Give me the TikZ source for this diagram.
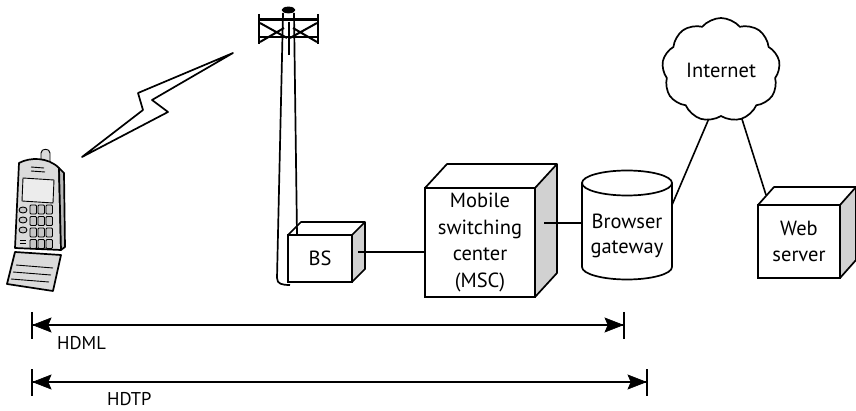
\documentclass[tikz,border=0pt]{standalone}
\usepackage{fontspec}
\setmainfont{PT Sans}
\usetikzlibrary{shapes.symbols}
\definecolor{sidegray}{gray}{0.82}
\definecolor{phonegray}{gray}{0.86}

% top and side faces of a box drawn behind/right of a front-face node
\newcommand\depthfaces[3]{%
  \fill[white] (#1.north west) -- ([shift={(#2,-#3)}]#1.north west) -- ([shift={(#2,-#3)}]#1.north east) -- (#1.north east) -- cycle;
  \fill[sidegray] (#1.north east) -- ([shift={(#2,-#3)}]#1.north east) -- ([shift={(#2,-#3)}]#1.south east) -- (#1.south east) -- cycle;
  \draw[ink] (#1.north west) -- ([shift={(#2,-#3)}]#1.north west) -- ([shift={(#2,-#3)}]#1.north east) -- ([shift={(#2,-#3)}]#1.south east) -- (#1.south east)
             (#1.north east) -- ([shift={(#2,-#3)}]#1.north east);
  \draw[ink] (#1.north west) rectangle (#1.south east);}

% double-headed span between two named points, with end bars
\newcommand\protospan[2]{%
  \draw[spanline] (#1) -- (#2);
  \path[spanhead] (#1) ++(1,0) -- ++(18,-7) -- ++(-3,7) -- ++(3,7) -- cycle;
  \path[spanhead] (#2) ++(-1,0) -- ++(-18,-7) -- ++(3,7) -- ++(-3,7) -- cycle;
  \draw[endbar] ([yshift=13pt]#1) -- ([yshift=-14pt]#1) ([yshift=13pt]#2) -- ([yshift=-14pt]#2);}

\begin{document}
\begin{tikzpicture}[x=1pt,y=-1pt,
  ink/.style={line width=1.7pt, line join=round},
  fine ink/.style={line width=0.9pt, line join=round},
  unitfont/.style={font=\fontsize{20.5}{26.5}\selectfont},
  unit/.style={draw, fill=white, line width=1.7pt, inner sep=0pt, outer sep=0pt, align=center, unitfont},
  link/.style={line width=1.6pt},
  spanline/.style={line width=1.7pt},
  spanhead/.style={fill=black, draw=black, line width=0.6pt, line join=miter},
  endbar/.style={line width=1.8pt},
  protolabel/.style={anchor=west, inner sep=0pt, font=\fontsize{18.5}{20}\selectfont}]
\useasboundingbox (0,0) rectangle (856,411);

% ---- handset ----
\draw[fine ink, fill=phonegray] (41,162) -- (41,153) .. controls (41,148) and (50,148) .. (50,153) -- (50,164) -- cycle;
\draw[ink, fill=phonegray] (19,163) .. controls (30,157) and (48,157) .. (59,168) -- (61,250) -- (15,248) -- cycle;
\draw[ink, fill=gray!55] (59,168) -- (64,173) -- (65,247) -- (61,250) -- cycle;
\draw[fine ink, fill=gray!15] (23,178) -- (54,180) -- (53,203) -- (22,201) -- cycle;
\draw[fine ink] (31,167) -- (44,168) (31,171) -- (45,172);
\foreach \c in {0,1,2}
  \foreach \r in {0,...,3}
    \draw[fine ink, fill=gray!45, rounded corners=1pt] (30+8*\c, 205+11.5*\r) rectangle ++(6.5,9);
\foreach \yy in {210,220,230}
  \draw[fine ink, fill=gray!45] (23,\yy) ellipse [x radius=4, y radius=3];
\draw[fine ink] (20,240) -- (26,240) (20,243) -- (26,243);
\draw[ink, fill=phonegray] (15,252) -- (61,255) -- (53,291) -- (7,284) -- cycle;
\draw[fine ink] (16,265) -- (53,268) (13,272) -- (51,275) (11,279) -- (49,282);

% ---- radio link ----
\draw[ink, fill=white] (82,157) -- (143,110) -- (138,93) -- (233,53) -- (152,100) -- (168,112) -- cycle;

% ---- antenna mast ----
\fill[white] (283,12) -- (277,278) .. controls (277,284) and (282,285) .. (290,285) -- (297,285) -- (294,12) -- cycle;
\draw[ink] (283,13) -- (277,278) .. controls (277,284) and (282,285) .. (290,285);
\draw[line width=3pt] (259,20) -- (318,20);
\draw[line width=2.2pt] (259,37) -- (318,37);
\draw[line width=2.6pt] (259,14) -- (259,44) (318,14) -- (318,44);
\draw[line width=2pt] (260,23) -- (287,38) (260,42) -- (284,28)
           (317,23) -- (290,38) (317,42) -- (293,28);
\draw[ink] (289,22) -- (289,55);
\draw[ink, fill=black] (288.5,10) ellipse [x radius=6, y radius=2.5];

% ---- network elements ----
\node[unit, minimum width=64pt, minimum height=47pt] (bs) at (320,258.5) {};
\depthfaces{bs}{13}{13}
\node[unitfont, inner sep=0pt] at (bs) {BS};
\draw[ink] (294,13) -- (297,235);

\node[unit, minimum width=110pt, minimum height=109pt] (msc) at (480,242.5) {};
\depthfaces{msc}{22}{24}
\node[align=center, inner sep=0pt, unitfont] at (msc) {Mobile\\switching\\center\\(MSC)};

\node[unit, minimum width=82pt, minimum height=73pt] (web) at (799,241.5) {};
\depthfaces{web}{16}{18}
\node[align=center, inner sep=0pt, unitfont] at (web) {Web\\server};

% browser gateway (cylinder)
\node[minimum width=90pt, minimum height=84pt, inner sep=0pt, outer sep=0pt] (gw) at (627,225) {};
\draw[ink, fill=white] (gw.north west) -- (gw.south west) arc[start angle=180, end angle=0, x radius=45, y radius=12.5] -- (gw.north east) -- cycle;
\draw[ink, fill=white] (gw.north) ellipse [x radius=45, y radius=12.5];
\node[align=center, inner sep=0pt, font=\fontsize{20.5}{25}\selectfont] (gwtext) at ([yshift=-11pt]gw.center) {Browser\\gateway};

% ---- links ----
\coordinate (bsside) at ([shift={(6,-6.5)}]bs.east);
\draw[link] (bsside) -- (bsside -| msc.west);
\coordinate (mscside) at ([shift={(9,-19.5)}]msc.east);
\draw[link] (mscside) -- (mscside -| gw.west);
\coordinate (gwport) at ([yshift=20pt]gw.east);
\coordinate (webport) at ([shift={(8,-10)}]web.north west);
\coordinate (inetleft) at (710,116);
\coordinate (inetright) at (741,116);
\draw[link] (gwport) -- (inetleft);
\draw[link] (inetright) -- (webport);

\node[cloud, draw, fill=white, line width=1.7pt, cloud puffs=9, cloud puff arc=100, aspect=1.1,
      minimum width=118pt, minimum height=104pt, inner sep=0pt,
      font=\fontsize{20.5}{24}\selectfont] (inet) at (721,70) {Internet};

% ---- protocol spans ----
\coordinate (hdmlL) at (32,325);
\coordinate (hdmlR) at (624,325);
\coordinate (hdtpL) at (32,382);
\coordinate (hdtpR) at (647,382);
\protospan{hdmlL}{hdmlR}
\protospan{hdtpL}{hdtpR}
\node[protolabel] (hdml) at (57,343) {HDML};
\node[protolabel] (hdtp) at (107,399) {HDTP};
\end{tikzpicture}
\end{document}
